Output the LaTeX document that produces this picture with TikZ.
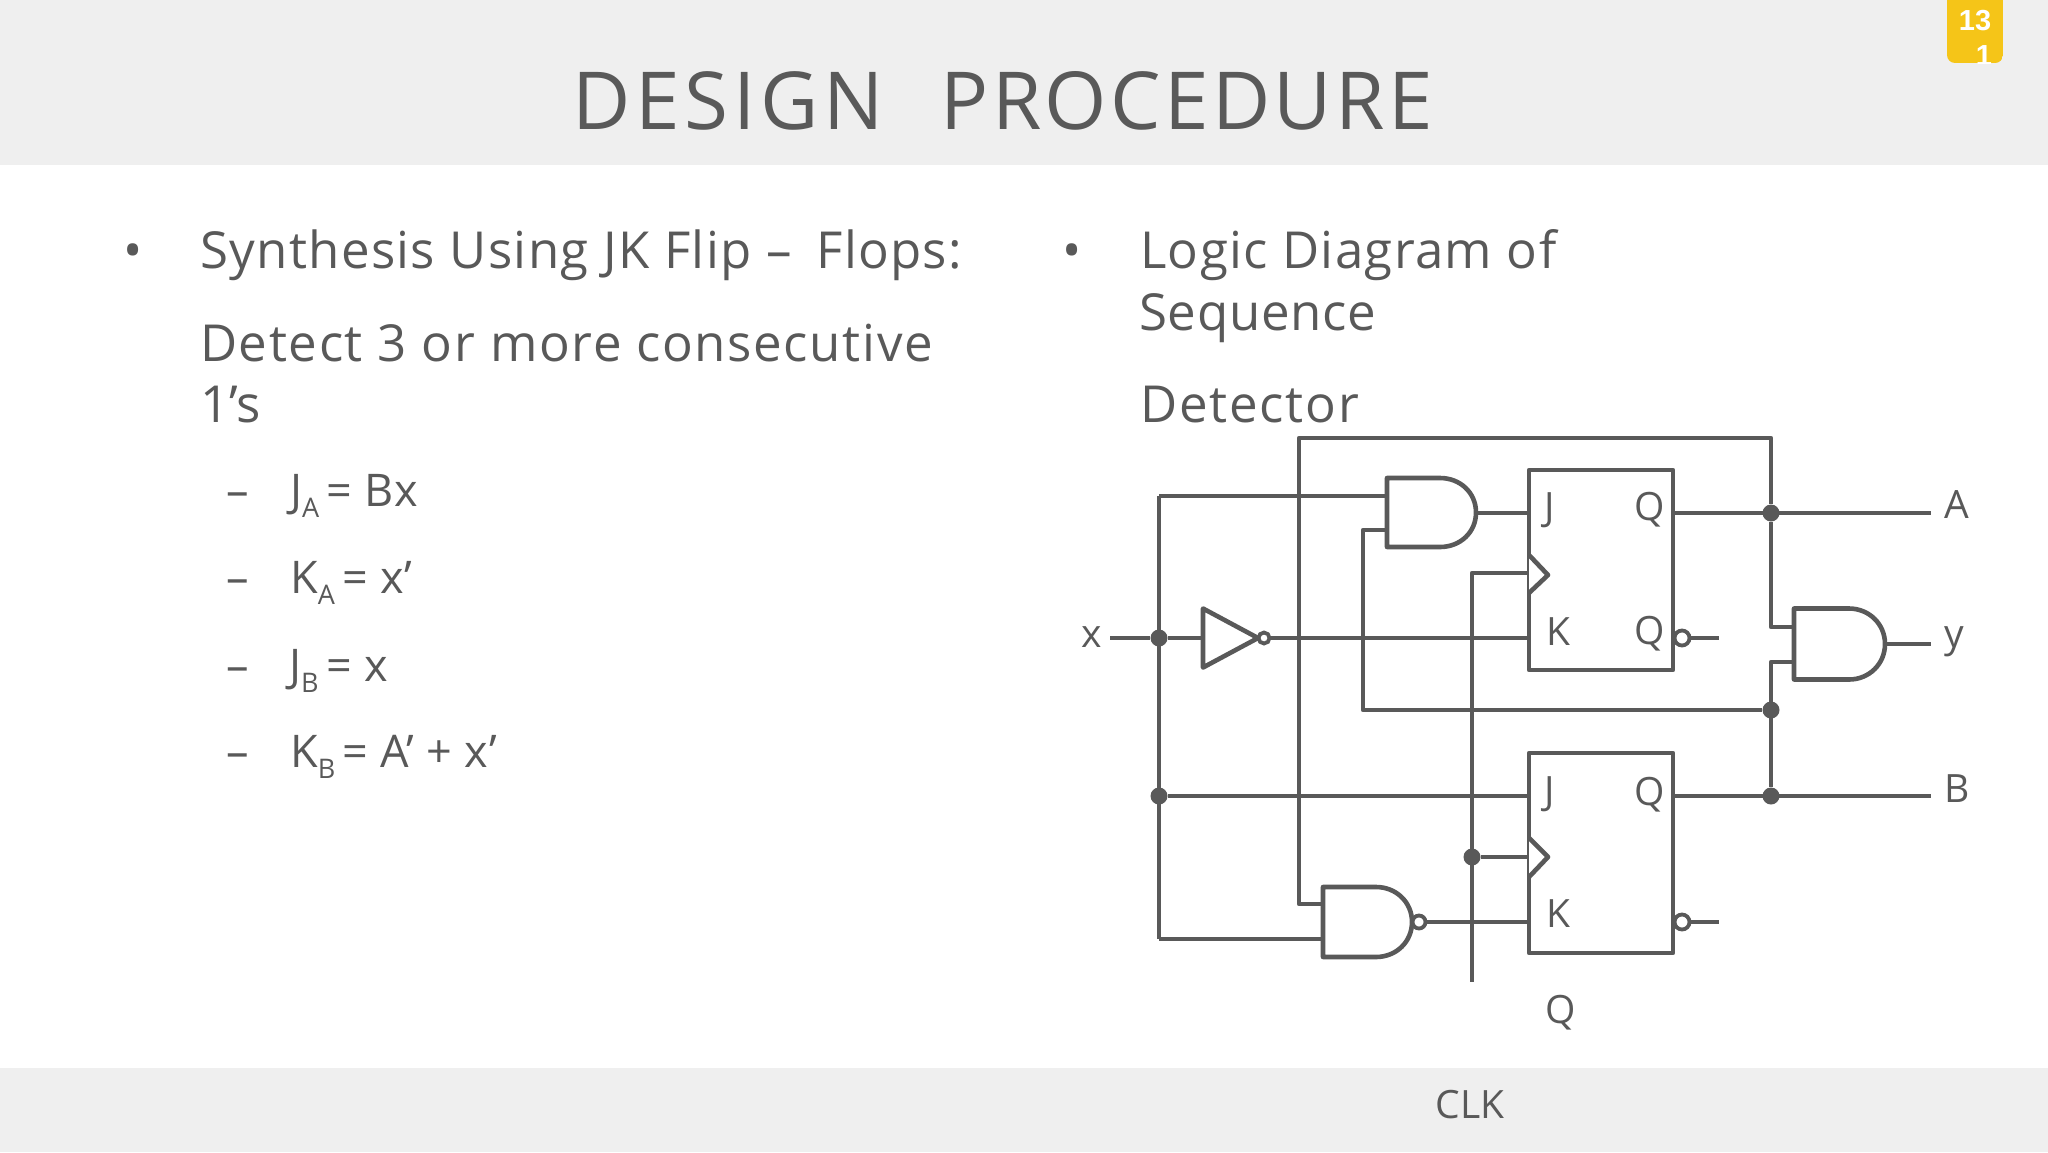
\documentclass[tikz,border=0pt]{standalone}
\usepackage{fontspec}
\setmainfont{Open Sans}
\newfontfamily\badgefont{Liberation Sans}
\usetikzlibrary{calc}
\definecolor{ink}{HTML}{595959}
\definecolor{band}{HTML}{EFEFEF}
\definecolor{badge}{HTML}{F5C518}
\newcommand{\lowsub}[1]{\raisebox{-0.26em}{\fontsize{27}{30}\selectfont #1}}
\newcommand{\gatebody}[5]{
	\node[gate box, minimum width=#4pt, minimum height=#5pt] (#1) at (#2,#3) {};
	\draw[wire, fill=white] (#1.north west) -- ($(#1.north east)+(-36,0)$) .. controls +(20,0) and +(0,-20) .. (#1.east) .. controls +(0,20) and +(20,0) .. ($(#1.south east)+(-36,0)$) -- (#1.south west) -- cycle;
}
\tikzset{
	wire/.style={draw=ink, line width=4.6pt, line join=round},
	gate box/.style={rectangle, inner sep=0pt, outer sep=0pt},
	flip flop/.style={rectangle, draw=ink, line width=4.6pt, line join=round, inner sep=0pt, outer sep=0pt, minimum width=144pt, minimum height=200pt},
	joint/.style={circle, fill=ink, inner sep=0pt, minimum size=17pt},
	bubble/.style={circle, draw=ink, fill=white, line width=3.8pt, inner sep=0pt},
	pin/.style={text=ink, font=\fontsize{39}{44}\selectfont, inner sep=0pt},
	body text/.style={text=ink, font=\fontsize{51}{60}\selectfont\addfontfeature{LetterSpace=2.6}, anchor=base west, inner sep=0pt},
	sub text/.style={text=ink, font=\fontsize{45}{50}\selectfont\addfontfeature{LetterSpace=1.2}, anchor=base west, inner sep=0pt}
}
\begin{document}
\begin{tikzpicture}[x=1pt, y=-1pt]
	\useasboundingbox (0,0) rectangle (2048,1152);
	\fill[band] (0,0) rectangle (2048,165);
	\fill[band] (0,1068) rectangle (2048,1152);
	\begin{scope}
		\path[clip, rounded corners=8pt] (1947,-20) rectangle (2003,63);
		\fill[badge] (1947,-20) rectangle (2003,63);
		\node[text=white, inner sep=0pt, font=\badgefont\fontsize{29}{30}\selectfont\bfseries] (page1) at (1975,21) {13};
		\node[text=white, inner sep=0pt, font=\badgefont\fontsize{29}{30}\selectfont\bfseries] (page2) at (1984,56) {1};
	\end{scope}
	\node[text=ink, inner sep=0pt, anchor=base west, font=\fontsize{80}{90}\selectfont\addfontfeature{LetterSpace=6}] (title) at (572,129) {DESIGN\hspace{0.39em} {\addfontfeature{LetterSpace=4.2}PROCEDURE}};

	\node[body text] (bulL) at (123,268) {•};
	\node[body text] (synth) at (200,268) {Synthesis Using JK Flip –\hspace{0.2em} Flops:};
	\node[body text] (detect) at (200,361) {\addfontfeature{LetterSpace=3.2}Detect 3 or more consecutive};
	\node[body text] (ones) at (200,422) {\addfontfeature{LetterSpace=0}1’s};
	\node[sub text] (dash1) at (226,506) {–};
	\node[sub text] (ja) at (290,506) {J\lowsub{A}\,= Bx};
	\node[sub text] (dash2) at (226,593) {–};
	\node[sub text] (ka) at (290,593) {K\lowsub{A}\,= x’};
	\node[sub text] (dash3) at (226,681) {–};
	\node[sub text] (jb) at (289,681) {J\lowsub{B}\,= x};
	\node[sub text] (dash4) at (226,767) {–};
	\node[sub text] (kb) at (290,767) {K\lowsub{B}\,= A’ + {\addfontfeature{LetterSpace=4}x’}};
	\node[body text] (bulR) at (1062,268) {•};
	\node[body text] (logic) at (1140,268) {Logic Diagram of};
	\node[body text] (seq) at (1139,330) {\addfontfeature{LetterSpace=1.5}Sequence};
	\node[body text] (det) at (1140,422) {\addfontfeature{LetterSpace=3.5}Detector};

	\node[flip flop] (FFA) at (1601,570) {};
	\node[flip flop] (FFB) at (1601,853) {};

	\node[joint] (Dx) at (1159,638) {};
	\node[joint] (Dj) at (1159,796) {};
	\node[joint] (Dclk) at (1472,857) {};
	\node[joint] (DA) at (1771,513) {};
	\node[joint] (Dan) at (1771,710) {};
	\node[joint] (DB) at (1771,796) {};

	\coordinate (xin) at (1110,638);
	\coordinate (clktop) at (1472,573);
	\coordinate (clkend) at (1472,982);
	\coordinate (top1) at (1299,438);
	\coordinate (top2) at (1771,438);
	\coordinate (back1) at (1363,530);
	\coordinate (back2) at (1363,710);
	\coordinate (left1) at (1159,496);
	\coordinate (left2) at (1159,939);
	\coordinate (nfb) at (1299,904);
	\coordinate (yin1) at (1771,627);
	\coordinate (yin2) at (1771,662);
	\coordinate (Aend) at (1931,513);
	\coordinate (Bend) at (1931,796);
	\coordinate (yend) at (1931,644);
	\coordinate (qaend) at (1719,638);
	\coordinate (qbend) at (1719,922);

	\draw[wire] (xin) -- (Dx);
	\draw[wire] (left1) -- (left2);
	\draw[wire] (left1) -- (1387,496);
	\draw[wire] (left2) -- (1323,939);
	\draw[wire] (Dj) -- (1529,796);
	\draw[wire] (1264,638) -- (1529,638);
	\draw[wire] (Dx) -- (1203,638);
	\draw[wire] (1387,530) -- (back1) -- (back2) -- (Dan);
	\draw[wire] (1323,904) -- (nfb) -- (top1) -- (top2) -- (DA);
	\draw[wire] (DA) -- (yin1) -- (1794,627);
	\draw[wire] (1794,662) -- (yin2) -- (DB);
	\draw[wire] (1529,573) -- (clktop) -- (clkend);
	\draw[wire] (Dclk) -- (1529,857);
	\draw[wire] (1673,513) -- (Aend);
	\draw[wire] (1673,796) -- (Bend);
	\draw[wire] (1477,513) -- (1529,513);
	\draw[wire] (1412,922) -- (1529,922);
	\draw[wire] (1885,644) -- (yend);
	\draw[wire] (1682,638) -- (qaend);
	\draw[wire] (1682,922) -- (qbend);

	\gatebody{GA}{1431.5}{512.5}{89}{69}
	\gatebody{GB}{1367.5}{922}{89}{70}
	\gatebody{GY}{1839.5}{644}{91}{71}

	\node[gate box, minimum width=55pt, minimum height=59pt] (INV) at (1230.5,638) {};
	\draw[wire, fill=white] (INV.north west) -- (INV.east) -- (INV.south west) -- cycle;
	\node[bubble, minimum size=11pt] (bINV) at (1264,638) {};
	\node[bubble, minimum size=13pt] (bGB) at (1419,922) {};
	\node[bubble, minimum size=15pt] (bA) at (1682,638) {};
	\node[bubble, minimum size=15pt] (bB) at (1682,922) {};

	\draw[wire, fill=white] (1529,555) -- (1548,575) -- (1529,593);
	\draw[wire, fill=white] (1529,838) -- (1548,857) -- (1529,877);

	\node[pin] (tJA) at (1550,510) {J};
	\node[pin] (tQA) at (1650,510) {Q};
	\node[pin] (tKA) at (1558,632) {K};
	\node[pin] (tNA) at (1650,634) {Q};
	\node[pin] (tJB) at (1550,794) {J};
	\node[pin] (tQB) at (1650,795) {Q};
	\node[pin] (tKB) at (1558,914) {K};
	\node[pin] (tNB) at (1561,1013) {Q};
	\node[pin] (tx) at (1092,637) {x};
	\node[pin] (tA) at (1957,505) {A};
	\node[pin] (ty) at (1954,642) {y};
	\node[pin] (tB) at (1957,789) {B};
	\node[pin] (tclk) at (1470,1105) {CLK};
\end{tikzpicture}
\end{document}
